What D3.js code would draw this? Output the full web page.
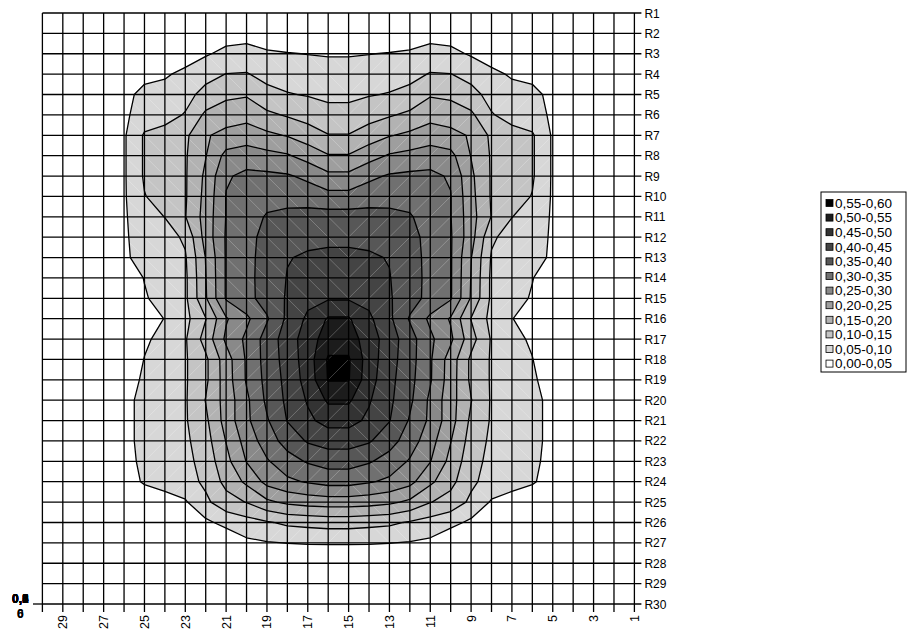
<!DOCTYPE html>
<html>
<head>
<meta charset="utf-8">
<script src="https://cdn.jsdelivr.net/npm/d3@7"></script>
<style>
body { margin: 0; background: #fff; }
text { font-family: "Liberation Sans", Arial, sans-serif; font-size: 12px; fill: #000; }
</style>
</head>
<body>
<svg id="chart" width="909" height="632"></svg>
<script>
// categories along the bottom (reversed, 30 at the left edge)
var columns = [30, 29, 28, 27, 26, 25, 24, 23, 22, 21, 20, 19, 18, 17, 16, 15, 14, 13, 12, 11, 10, 9, 8, 7, 6, 5, 4, 3, 2, 1];
var xTickLabels = [29, 27, 25, 23, 21, 19, 17, 15, 13, 11, 9, 7, 5, 3, 1];
var rowLabels = ["R1", "R2", "R3", "R4", "R5", "R6", "R7", "R8", "R9", "R10",
    "R11", "R12", "R13", "R14", "R15", "R16", "R17", "R18", "R19", "R20",
    "R21", "R22", "R23", "R24", "R25", "R26", "R27", "R28", "R29", "R30"];
var valueAxisLabels = ["0,0", "0,1", "0,2", "0,3", "0,4", "0,5", "0,6"];

var thresholds = [0.05, 0.10, 0.15, 0.20, 0.25, 0.30, 0.35, 0.40, 0.45, 0.50, 0.55];
var legendLabels = ["0,55-0,60", "0,50-0,55", "0,45-0,50", "0,40-0,45", "0,35-0,40", "0,30-0,35",
    "0,25-0,30", "0,20-0,25", "0,15-0,20", "0,10-0,15", "0,05-0,10", "0,00-0,05"];
var bandColors = ["#000000", "#1c1c1c", "#333333", "#444444", "#575757", "#707070",
    "#898989", "#9e9e9e", "#b2b2b2", "#c4c4c4", "#d7d7d7", "#ffffff"];

// one row per series R1..R30, one value per column (left to right = 30..1)
var surface = [
 [0,0,0,0,0,0,0,0,0,0,0,0,0,0,0,0,0,0,0,0,0,0,0,0,0,0,0,0,0,0],
 [0,0,0,0,0,0,0.005,0.01,0.02,0.03,0.03,0.025,0.02,0.015,0.01,0.01,0.015,0.02,0.025,0.03,0.03,0.02,0.01,0.005,0,0,0,0,0,0],
 [0,0,0,0,0,0.01,0.02,0.03,0.045,0.062,0.07,0.056,0.052,0.049,0.047,0.047,0.049,0.052,0.056,0.07,0.062,0.045,0.03,0.02,0.01,0,0,0,0,0],
 [0,0,0,0,0.02,0.035,0.045,0.06,0.085,0.101,0.103,0.085,0.077,0.072,0.067,0.067,0.072,0.077,0.085,0.103,0.101,0.085,0.06,0.045,0.035,0.02,0,0,0,0],
 [0,0,0,0,0.035,0.065,0.065,0.085,0.115,0.14,0.145,0.115,0.103,0.097,0.09,0.09,0.097,0.103,0.115,0.145,0.14,0.115,0.085,0.065,0.065,0.035,0,0,0,0],
 [0,0,0,0,0.042,0.07,0.085,0.103,0.16,0.175,0.185,0.16,0.145,0.13,0.115,0.115,0.13,0.145,0.16,0.185,0.175,0.16,0.103,0.085,0.07,0.042,0,0,0,0],
 [0,0,0,0,0.044,0.106,0.115,0.14,0.195,0.215,0.222,0.21,0.197,0.175,0.152,0.152,0.175,0.197,0.21,0.222,0.215,0.195,0.14,0.115,0.106,0.044,0,0,0,0],
 [0,0,0,0,0.044,0.106,0.12,0.145,0.198,0.265,0.278,0.265,0.255,0.23,0.203,0.203,0.23,0.255,0.265,0.278,0.265,0.198,0.145,0.12,0.106,0.044,0,0,0,0],
 [0,0,0,0,0.044,0.106,0.12,0.145,0.21,0.295,0.31,0.31,0.305,0.29,0.262,0.262,0.29,0.305,0.31,0.31,0.295,0.21,0.145,0.12,0.106,0.044,0,0,0,0],
 [0,0,0,0,0.044,0.098,0.12,0.145,0.215,0.302,0.32,0.33,0.33,0.325,0.316,0.316,0.325,0.33,0.33,0.32,0.302,0.215,0.145,0.12,0.098,0.044,0,0,0,0],
 [0,0,0,0,0.044,0.08,0.101,0.148,0.22,0.302,0.325,0.355,0.365,0.37,0.37,0.37,0.37,0.365,0.355,0.325,0.302,0.22,0.148,0.101,0.08,0.044,0,0,0,0],
 [0,0,0,0,0.044,0.07,0.08,0.108,0.22,0.305,0.33,0.37,0.385,0.39,0.39,0.39,0.39,0.385,0.37,0.33,0.305,0.22,0.108,0.08,0.07,0.044,0,0,0,0],
 [0,0,0,0,0.042,0.068,0.08,0.095,0.202,0.305,0.335,0.37,0.398,0.405,0.41,0.41,0.405,0.398,0.37,0.335,0.305,0.202,0.095,0.08,0.068,0.042,0,0,0,0],
 [0,0,0,0,0.02,0.052,0.075,0.09,0.198,0.305,0.335,0.372,0.402,0.42,0.425,0.425,0.42,0.402,0.372,0.335,0.305,0.198,0.09,0.075,0.052,0.02,0,0,0,0],
 [0,0,0,0,0,0.045,0.07,0.09,0.195,0.305,0.335,0.37,0.405,0.435,0.445,0.445,0.435,0.405,0.37,0.335,0.305,0.195,0.09,0.07,0.045,0,0,0,0,0],
 [0,0,0,0,0,0.02,0.052,0.085,0.148,0.245,0.29,0.345,0.41,0.46,0.505,0.505,0.46,0.41,0.345,0.29,0.245,0.148,0.085,0.052,0.02,0,0,0,0,0],
 [0,0,0,0,0,0.04,0.07,0.095,0.17,0.26,0.31,0.37,0.425,0.475,0.525,0.525,0.475,0.425,0.37,0.31,0.26,0.17,0.095,0.07,0.04,0,0,0,0,0],
 [0,0,0,0,0,0.052,0.075,0.095,0.14,0.227,0.306,0.37,0.42,0.475,0.556,0.556,0.475,0.42,0.37,0.306,0.227,0.14,0.095,0.075,0.052,0,0,0,0,0],
 [0,0,0,0,0.02,0.06,0.075,0.095,0.14,0.225,0.305,0.365,0.415,0.47,0.553,0.553,0.47,0.415,0.365,0.305,0.225,0.14,0.095,0.075,0.06,0.02,0,0,0,0],
 [0,0,0,0,0.035,0.065,0.075,0.095,0.152,0.22,0.29,0.36,0.41,0.455,0.508,0.508,0.455,0.41,0.36,0.29,0.22,0.152,0.095,0.075,0.065,0.035,0,0,0,0],
 [0,0,0,0,0.035,0.065,0.075,0.095,0.14,0.22,0.29,0.345,0.402,0.44,0.467,0.467,0.44,0.402,0.345,0.29,0.22,0.14,0.095,0.075,0.065,0.035,0,0,0,0],
 [0,0,0,0,0.035,0.065,0.075,0.09,0.13,0.202,0.27,0.325,0.37,0.405,0.42,0.42,0.405,0.37,0.325,0.27,0.202,0.13,0.09,0.075,0.065,0.035,0,0,0,0],
 [0,0,0,0,0.035,0.06,0.07,0.085,0.12,0.185,0.252,0.295,0.33,0.355,0.37,0.37,0.355,0.33,0.295,0.252,0.185,0.12,0.085,0.07,0.06,0.035,0,0,0,0],
 [0,0,0,0,0.03,0.055,0.068,0.08,0.11,0.165,0.21,0.265,0.29,0.305,0.317,0.317,0.305,0.29,0.265,0.21,0.165,0.11,0.08,0.068,0.055,0.03,0,0,0,0],
 [0,0,0,0,0,0.02,0.03,0.045,0.09,0.13,0.152,0.19,0.21,0.22,0.225,0.225,0.22,0.21,0.19,0.152,0.13,0.09,0.045,0.03,0.02,0,0,0,0,0],
 [0,0,0,0,0,0,0,0.02,0.04,0.065,0.08,0.095,0.11,0.115,0.12,0.12,0.115,0.11,0.095,0.08,0.065,0.04,0.02,0,0,0,0,0,0,0],
 [0,0,0,0,0,0,0,0,0,0.01,0.04,0.047,0.051,0.054,0.055,0.055,0.054,0.051,0.047,0.04,0.01,0,0,0,0,0,0,0,0,0],
 [0,0,0,0,0,0,0,0,0,0,0,0,0,0,0,0,0,0,0,0,0,0,0,0,0,0,0,0,0,0],
 [0,0,0,0,0,0,0,0,0,0,0,0,0,0,0,0,0,0,0,0,0,0,0,0,0,0,0,0,0,0],
 [0,0,0,0,0,0,0,0,0,0,0,0,0,0,0,0,0,0,0,0,0,0,0,0,0,0,0,0,0,0]
];

var svg = d3.select("#chart");
var plotLeft = 42.4, plotRight = 634.4, plotTop = 13, plotBottom = 604;

var x = d3.scalePoint().domain(columns).range([plotLeft, plotRight]);
var y = d3.scalePoint().domain(rowLabels).range([plotTop, plotBottom]);

// d3.contours puts value i at i + 0.5
var gx = d3.scaleLinear().domain([0.5, columns.length - 0.5]).range([plotLeft, plotRight]);
var gy = d3.scaleLinear().domain([0.5, rowLabels.length - 0.5]).range([plotTop, plotBottom]);
var proj = d3.geoTransform({ point: function(px, py) { this.stream.point(gx(px), gy(py)); } });
var path = d3.geoPath(proj);

svg.append("clipPath").attr("id", "plot-clip")
    .append("rect").attr("x", plotLeft).attr("y", plotTop)
    .attr("width", plotRight - plotLeft).attr("height", plotBottom - plotTop);

var contours = d3.contours()
    .size([columns.length, rowLabels.length])
    .thresholds(thresholds)(surface.flat());

function bandColor(t) {
    return bandColors[legendLabels.length - 1 - Math.round(t / 0.05)];
}

var plot = svg.append("g").attr("clip-path", "url(#plot-clip)");

plot.append("g").selectAll("path")
    .data(contours)
    .enter().append("path")
    .attr("d", path)
    .attr("fill", function(d) { return bandColor(d.value); })
    .attr("stroke", "none");

// faint white triangulation diagonals in each cell
var cells = [];
for (var i = 0; i < columns.length - 1; i++) {
    for (var j = 0; j < rowLabels.length - 1; j++) {
        cells.push({ i: i, j: j });
    }
}
function falling(d) { return (d.i <= 14) == (d.j <= 14); }
plot.append("g").selectAll("line")
    .data(cells)
    .enter().append("line")
    .attr("x1", function(d) { return x(columns[d.i]); })
    .attr("x2", function(d) { return x(columns[d.i + 1]); })
    .attr("y1", function(d) { return falling(d) ? y(rowLabels[d.j]) : y(rowLabels[d.j + 1]); })
    .attr("y2", function(d) { return falling(d) ? y(rowLabels[d.j + 1]) : y(rowLabels[d.j]); })
    .attr("stroke", "#fff")
    .attr("stroke-opacity", 0.4)
    .attr("stroke-width", 0.6);

plot.append("g").selectAll("path")
    .data(contours)
    .enter().append("path")
    .attr("d", path)
    .attr("fill", "none")
    .attr("stroke", "#000")
    .attr("stroke-width", 1.3)
    .attr("stroke-linejoin", "round");

// grid
var grid = svg.append("g").attr("stroke", "#000").attr("stroke-width", 1.3);
grid.selectAll("line.v")
    .data(columns)
    .enter().append("line")
    .attr("class", "v")
    .attr("x1", function(d) { return x(d); })
    .attr("x2", function(d) { return x(d); })
    .attr("y1", plotTop)
    .attr("y2", plotBottom + 8);
grid.selectAll("line.h")
    .data(rowLabels)
    .enter().append("line")
    .attr("class", "h")
    .attr("x1", plotLeft)
    .attr("x2", plotRight + 7)
    .attr("y1", function(d) { return y(d); })
    .attr("y2", function(d) { return y(d); });

// value axis collapsed to a stub at the corner
svg.append("line").attr("x1", 33).attr("x2", plotLeft).attr("y1", plotBottom).attr("y2", plotBottom)
    .attr("stroke", "#000").attr("stroke-width", 1.3);

// bottom labels
svg.append("g").selectAll("text")
    .data(xTickLabels)
    .enter().append("text")
    .attr("transform", function(d) { return "translate(" + (x(d) + 4.5) + "," + (plotBottom + 11) + ") rotate(-90)"; })
    .attr("text-anchor", "end")
    .style("font-size", "12.5px")
    .text(function(d) { return d; });

// right labels
svg.append("g").selectAll("text")
    .data(rowLabels)
    .enter().append("text")
    .attr("x", plotRight + 10)
    .attr("y", function(d) { return y(d) + 4.5; })
    .text(function(d) { return d; });

// overlapping value axis labels
svg.append("g").selectAll("text")
    .data(valueAxisLabels)
    .enter().append("text")
    .attr("x", 12)
    .attr("y", 603)
    .style("font-weight", "bold")
    .text(function(d) { return d; });
svg.append("text").attr("x", 17).attr("y", 618).style("font-weight", "bold").text("0");
svg.append("text").attr("x", 17).attr("y", 618).style("font-weight", "bold").text("6");

// legend
var legend = svg.append("g");
legend.append("rect")
    .attr("x", 821).attr("y", 192).attr("width", 85).attr("height", 180)
    .attr("fill", "#fff").attr("stroke", "#000").attr("stroke-width", 1);
var entry = legend.selectAll("g.entry")
    .data(legendLabels)
    .enter().append("g")
    .attr("class", "entry")
    .attr("transform", function(d, k) { return "translate(826," + (203 + k * 14.6) + ")"; });
entry.append("rect")
    .attr("x", 0).attr("y", -3.5).attr("width", 7).attr("height", 7)
    .attr("fill", function(d, k) { return bandColors[k]; })
    .attr("stroke", "#000").attr("stroke-width", 0.8);
entry.append("text")
    .attr("x", 9).attr("y", 4.8)
    .style("font-size", "13.5px")
    .text(function(d) { return d; });
</script>
</body>
</html>
